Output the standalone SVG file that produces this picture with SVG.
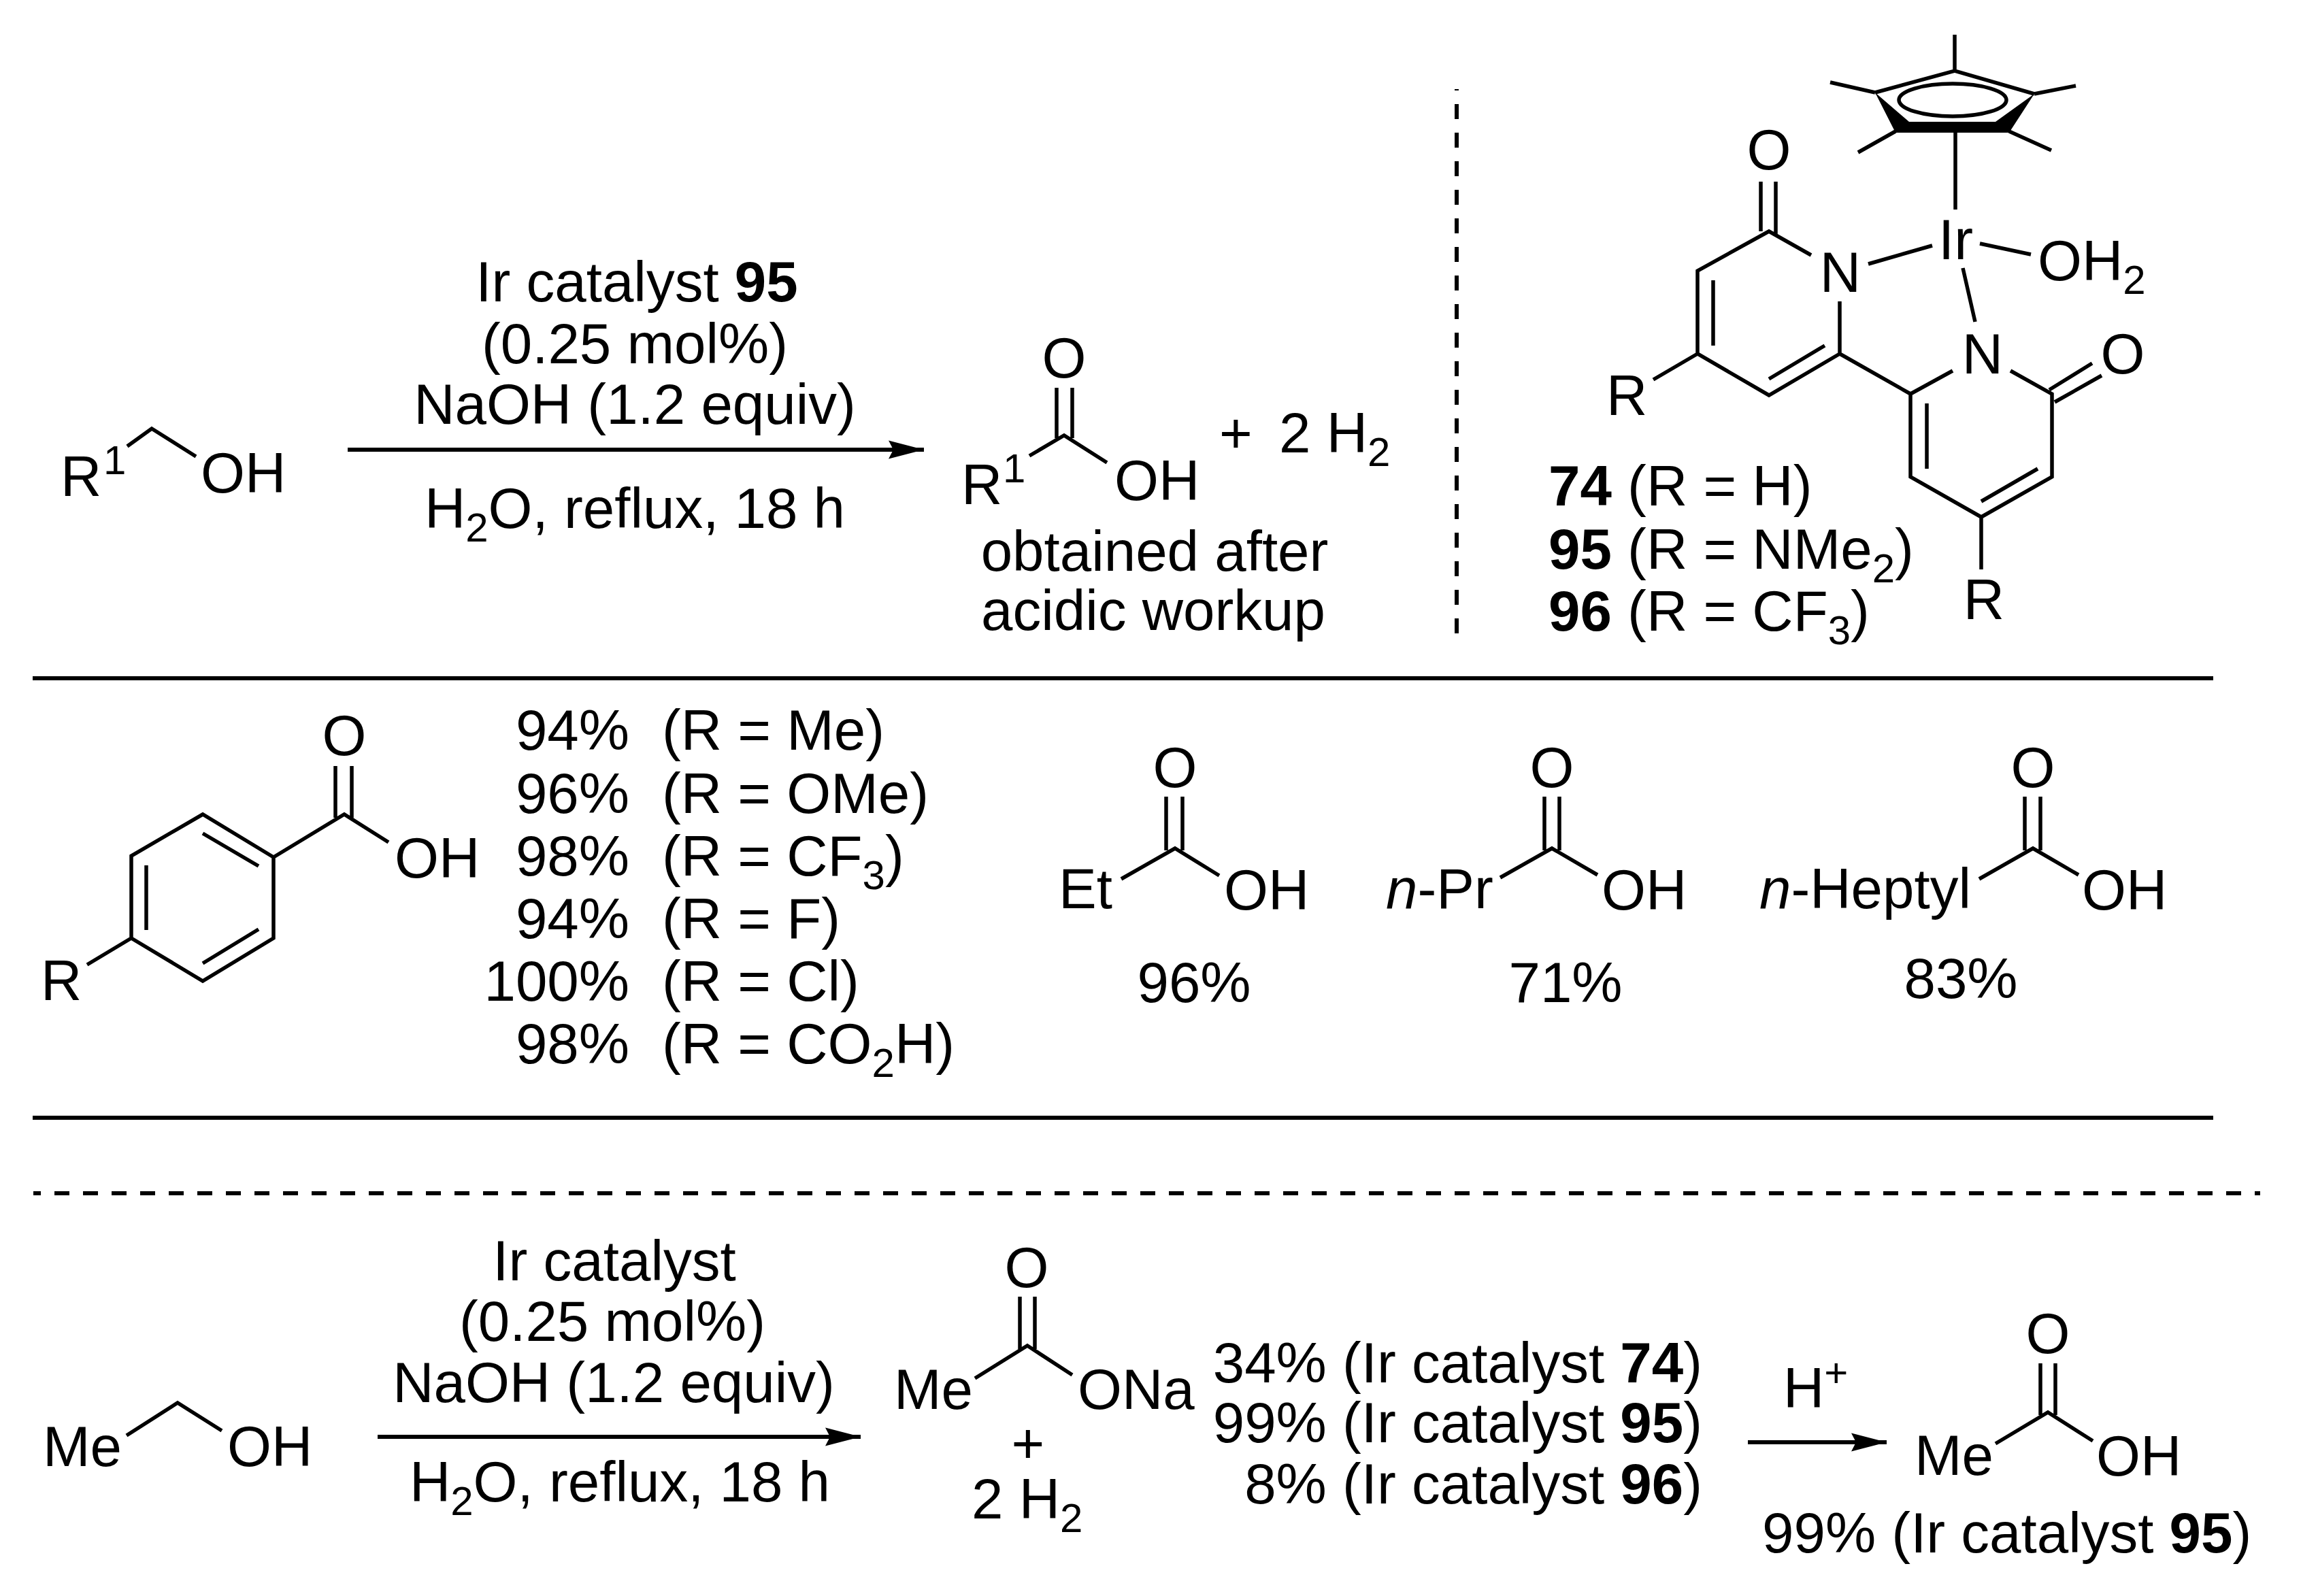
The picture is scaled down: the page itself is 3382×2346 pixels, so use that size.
<svg xmlns="http://www.w3.org/2000/svg" width="3382" height="2346" viewBox="0 0 3382 2346">
<defs>
<style>
text{font-family:"Liberation Sans",Arial,sans-serif;font-size:83.5px;fill:#000}
.m{text-anchor:middle}.e{text-anchor:end}
.b{font-weight:bold}
.s{font-size:60px}
.bd{stroke:#000;stroke-width:5.5;fill:none;stroke-linecap:butt}
.r{stroke:#000;stroke-width:6;fill:none}
.d{stroke:#000;stroke-width:6;fill:none;stroke-dasharray:22 20}
</style>
<marker id="ah" markerUnits="userSpaceOnUse" markerWidth="54" markerHeight="30" refX="52" refY="15" orient="auto"><path d="M0 1.5L52 15L0 28.5L7 15Z" fill="#000"/></marker>
</defs>
<rect width="3382" height="2346" fill="#fff"/>
<g id="connectors">
<path class="r" d="M511 661H1358" marker-end="url(#ah)"/>
<path class="r" d="M555 2112H1265" marker-end="url(#ah)"/>
<path class="r" d="M2569 2120H2773" marker-end="url(#ah)"/>
</g>
<g id="dividers">
<path class="d" d="M2141 131V932" stroke-dashoffset="20"/>
<path class="r" d="M48 997H3253"/>
<path class="r" d="M48 1643H3253"/>
<path class="d" d="M49 1754H3322" stroke-dashoffset="11"/>
</g>
<g id="reactant-1">
<path class="bd" d="M187 656L223 630L288 671"/>
<text x="89" y="729">R</text><text x="152" y="697" class="s">1</text>
<text x="295" y="724">OH</text>
</g>
<g id="conditions-1">
<text x="936" y="443" class="m">Ir catalyst <tspan class="b">95</tspan></text>
<text x="933" y="534" class="m">(0.25 mol%)</text>
<text x="933" y="623" class="m">NaOH (1.2 equiv)</text>
<text x="933" y="776" class="m">H<tspan class="s" dy="20">2</tspan><tspan dy="-20">O, reflux, 18 h</tspan></text>
</g>
<g id="product-1">
<path class="bd" d="M1553 570V644M1576 570V644M1513 670L1564 640L1627 680"/>
<text x="1564" y="555" class="m">O</text>
<text x="1413" y="741">R</text><text x="1474" y="709" class="s">1</text>
<text x="1638" y="735">OH</text>
<text x="1792" y="665">+<tspan x="1880">2 H</tspan><tspan class="s" dy="20">2</tspan></text>
<text x="1697" y="839" class="m">obtained after</text>
<text x="1695" y="926" class="m">acidic workup</text>
</g>
<g id="catalyst">
<path class="bd" d="M2873 104V51M2756 136L2690 121M2990 138L3051 126M2786 193L2731 224M2953 193L3015 221M2756 136L2873 104L2990 138"/>
<path d="M2756 136L2786 195H2953L2990 138L2933 179H2806Z" fill="#000"/>
<ellipse cx="2870" cy="147" rx="79" ry="24" class="bd"/>
<path class="bd" d="M2874 194V308M2746 388L2840 361M2910 358L2985 374M2885 394L2903 473"/>
<path class="bd" d="M2588 267V340M2610 267V346M2662 375L2600 340L2495 398V520L2600 581L2704 520V443M2518 412V508M2600 557L2682 508M2495 520L2430 558M2704 520L2808 579L2870 545M2955 545L3016 579V701L2912 760L2808 701V579M2832 593V689M2912 737L2995 689M3012 573L3075 534M3020 591L3089 552M2912 760V837"/>
<text x="2600" y="249" class="m">O</text>
<text x="2705" y="429" class="m">N</text>
<text x="2849" y="381">Ir</text>
<text x="2995" y="412">OH<tspan class="s" dy="20">2</tspan></text>
<text x="2361" y="610">R</text>
<text x="2914" y="549" class="m">N</text>
<text x="3120" y="549" class="m">O</text>
<text x="2916" y="910" class="m">R</text>
<text x="2276" y="743"><tspan class="b">74</tspan> (R = H)</text>
<text x="2276" y="836"><tspan class="b">95</tspan> (R = NMe<tspan class="s" dy="20">2</tspan><tspan dy="-20">)</tspan></text>
<text x="2276" y="927"><tspan class="b">96</tspan> (R = CF<tspan class="s" dy="20">3</tspan><tspan dy="-20">)</tspan></text>
</g>
<g id="benzoic-acid">
<path class="bd" d="M493 1126V1202M517 1126V1202M402 1260L506 1197L571 1238M402 1260V1379L298 1442L193 1379V1258L298 1197L402 1260M380 1273L298 1225M215 1272V1367M380 1366L298 1416M193 1379L128 1418"/>
<text x="506" y="1110" class="m">O</text>
<text x="580" y="1290">OH</text>
<text x="60" y="1470">R</text>
</g>
<g id="yields-list">
<text x="925" y="1102" class="e">94%</text><text x="973" y="1102">(R = Me)</text>
<text x="925" y="1195" class="e">96%</text><text x="973" y="1195">(R = OMe)</text>
<text x="925" y="1287" class="e">98%</text><text x="973" y="1287">(R = CF<tspan class="s" dy="20">3</tspan><tspan dy="-20">)</tspan></text>
<text x="925" y="1379" class="e">94%</text><text x="973" y="1379">(R = F)</text>
<text x="925" y="1471" class="e">100%</text><text x="973" y="1471">(R = Cl)</text>
<text x="925" y="1563" class="e">98%</text><text x="973" y="1563">(R = CO<tspan class="s" dy="20">2</tspan><tspan dy="-20">H)</tspan></text>
</g>
<g id="acid-et">
<path class="bd" d="M1714 1171V1250M1738 1171V1250M1648 1292L1727 1247L1792 1287"/>
<text x="1727" y="1157" class="m">O</text>
<text x="1556" y="1335">Et</text><text x="1799" y="1337">OH</text>
<text x="1755" y="1473" class="m">96%</text>
</g>
<g id="acid-pr">
<path class="bd" d="M2270 1171V1250M2292 1171V1250M2205 1290L2281 1247L2348 1286"/>
<text x="2281" y="1157" class="m">O</text>
<text x="2037" y="1335"><tspan font-style="italic">n</tspan>-Pr</text><text x="2354" y="1337">OH</text>
<text x="2301" y="1473" class="m">71%</text>
</g>
<g id="acid-heptyl">
<path class="bd" d="M2976 1171V1250M2999 1171V1250M2909 1292L2988 1247L3055 1286"/>
<text x="2988" y="1157" class="m">O</text>
<text x="2586" y="1335"><tspan font-style="italic">n</tspan>-Heptyl</text><text x="3060" y="1337">OH</text>
<text x="2882" y="1467" class="m">83%</text>
</g>
<g id="reactant-2">
<path class="bd" d="M186 2110L261 2062L326 2103"/>
<text x="63" y="2155">Me</text><text x="334" y="2155">OH</text>
</g>
<g id="conditions-2">
<text x="903" y="1882" class="m">Ir catalyst</text>
<text x="900" y="1971" class="m">(0.25 mol%)</text>
<text x="902" y="2061" class="m">NaOH (1.2 equiv)</text>
<text x="911" y="2207" class="m">H<tspan class="s" dy="20">2</tspan><tspan dy="-20">O, reflux, 18 h</tspan></text>
</g>
<g id="acetate">
<path class="bd" d="M1499 1906V1983M1521 1906V1983M1433 2026L1510 1978L1576 2021"/>
<text x="1509" y="1892" class="m">O</text>
<text x="1314" y="2071">Me</text><text x="1584" y="2071">ONa</text>
<text x="1511" y="2150" class="m">+</text>
<text x="1428" y="2232">2 H<tspan class="s" dy="20">2</tspan></text>
</g>
<g id="yields-acetate">
<text x="2502" y="2032" class="e">34% (Ir catalyst <tspan class="b">74</tspan>)</text>
<text x="2502" y="2120" class="e">99% (Ir catalyst <tspan class="b">95</tspan>)</text>
<text x="2502" y="2210" class="e">8% (Ir catalyst <tspan class="b">96</tspan>)</text>
</g>
<g id="acid-label">
<text x="2621" y="2069">H<tspan class="s" dy="-31">+</tspan></text>
</g>
<g id="acetic-acid">
<path class="bd" d="M2999 2004V2080M3021 2004V2080M2933 2122L3010 2076L3076 2118"/>
<text x="3010" y="1989" class="m">O</text>
<text x="2814" y="2168">Me</text><text x="3081" y="2169">OH</text>
<text x="2590" y="2282">99% (Ir catalyst <tspan class="b">95</tspan>)</text>
</g>
</svg>
